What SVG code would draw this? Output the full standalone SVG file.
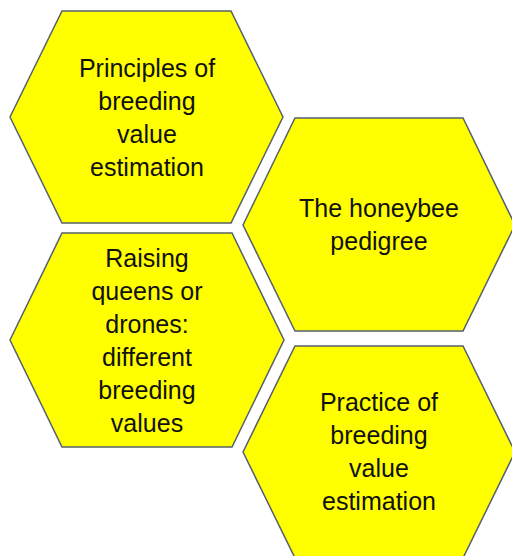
<svg xmlns="http://www.w3.org/2000/svg" width="512" height="556" viewBox="0 0 512 556">
<style>
.hex{fill:#FFFF00;stroke:#56606b;stroke-width:1.5;stroke-linejoin:miter}
.t{font-family:"Liberation Sans",Arial,sans-serif;font-size:25px;fill:#111;text-anchor:middle}
</style>
<rect width="512" height="556" fill="#fff"/>
<g id="node1">
<polygon class="hex" points="10,117 62,11 231,11 283,117 231,223 62,223"/>
<text class="t"><tspan x="147" y="77">Principles of</tspan><tspan x="147" y="110">breeding</tspan><tspan x="147" y="143">value</tspan><tspan x="147" y="176">estimation</tspan></text>
</g>
<g id="node2">
<polygon class="hex" points="243,225 295,118 463,118 515,225 463,331 295,331"/>
<text class="t"><tspan x="379" y="217">The honeybee</tspan><tspan x="379" y="250">pedigree</tspan></text>
</g>
<g id="node3">
<polygon class="hex" points="10,340 62,233 232,233 284,340 232,447 62,447"/>
<text class="t"><tspan x="147" y="267">Raising</tspan><tspan x="147" y="300">queens or</tspan><tspan x="147" y="333">drones:</tspan><tspan x="147" y="366">different</tspan><tspan x="147" y="399">breeding</tspan><tspan x="147" y="432">values</tspan></text>
</g>
<g id="node4">
<polygon class="hex" points="243,452 295,346 463,346 515,452 463,558 295,558"/>
<text class="t"><tspan x="379" y="411">Practice of</tspan><tspan x="379" y="444">breeding</tspan><tspan x="379" y="477">value</tspan><tspan x="379" y="510">estimation</tspan></text>
</g>
<g id="connectors"/>
</svg>
